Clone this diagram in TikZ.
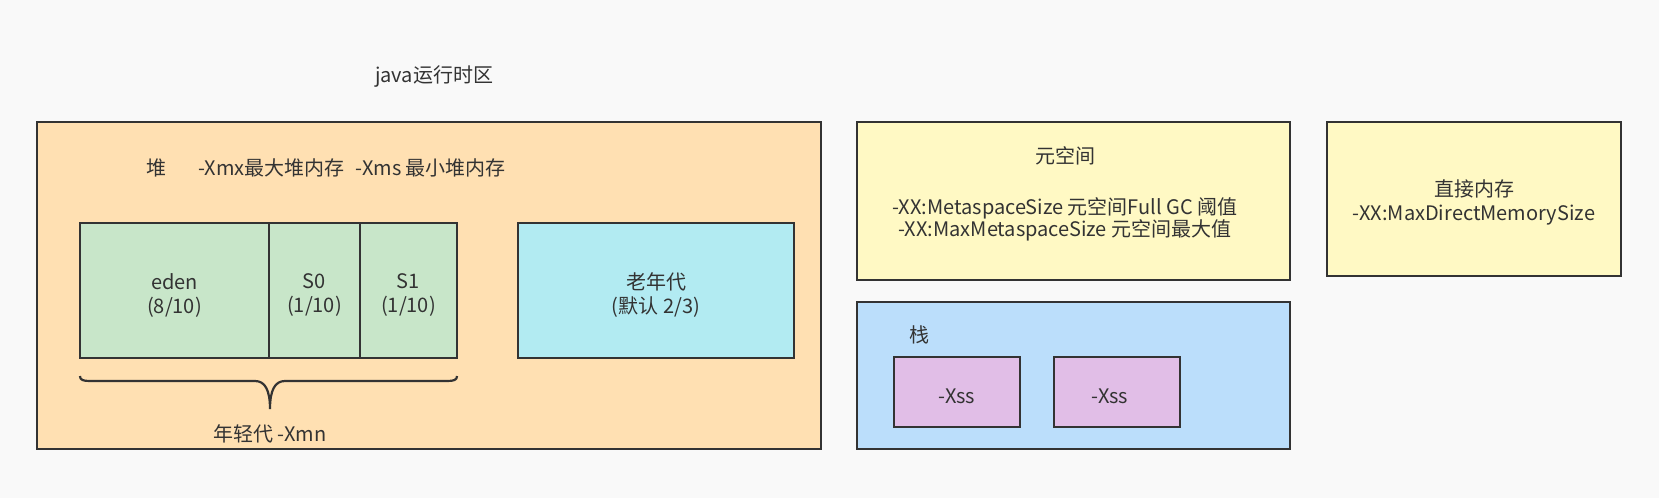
\documentclass[tikz,border=0pt]{standalone}
\usepackage{fontspec}
\newfontfamily\cjk{Noto Sans CJK SC}
\usetikzlibrary{positioning}

\definecolor{bgc}{HTML}{F9F9F9}
\definecolor{ink}{HTML}{333333}
\definecolor{heapc}{HTML}{FFE0B2}
\definecolor{youngc}{HTML}{C8E6C9}
\definecolor{oldc}{HTML}{B2EBF2}
\definecolor{metac}{HTML}{FFF9C4}
\definecolor{stackc}{HTML}{BBDEFB}
\definecolor{xssc}{HTML}{E1BEE7}

\begin{document}
\begin{tikzpicture}[x=1pt, y=-1pt, node distance=0pt,
		every node/.append style={font=\cjk\fontsize{20}{24}\selectfont, text=ink, align=center},
		box/.style={draw=ink, line width=2.6pt, outer sep=0pt, inner sep=0pt, anchor=north west},
		young/.style={box, fill=youngc, minimum height=135pt, anchor=center} ]
	\fill[bgc] (0,0) rectangle (1659,498);
	\node (title) at (434,77) {java运行时区};
	
	%Caixas:
	\node[box, fill=heapc,  minimum width=784pt, minimum height=327pt] (heap)   at (37,122)   {};
	\node[box, fill=metac,  minimum width=433pt, minimum height=158pt] (meta)   at (857,122)  {};
	\node[box, fill=metac,  minimum width=294pt, minimum height=154pt] (direct) at (1327,122) {};
	\node[box, fill=stackc, minimum width=433pt, minimum height=147pt] (stack)  at (857,302)  {};
	
	\node[young, minimum width=189pt, anchor=north west] (eden) at (80,223) {};
	\node[young, minimum width=91pt, right=of eden]      (szero) {};
	\node[young, minimum width=97pt, right=of szero]     (sone)  {};
	\node[box, fill=oldc, minimum width=276pt, minimum height=135pt] (old) at (518,223) {};
	\node[box, fill=xssc, minimum width=126pt, minimum height=70pt] (xssA) at (894,357)  {};
	\node[box, fill=xssc, minimum width=126pt, minimum height=70pt] (xssB) at (1054,357) {};
	
	%Textos:
	\node[anchor=west] (heaplbl) at (143,168) {堆\hspace{32pt}-Xmx最大堆内存\hspace{11pt}-Xms 最小堆内存};
	\node (edentxt)  at (174.5,295) {eden\\(8/10)};
	\node (szerotxt) at (314.5,295) {S0\\(1/10)};
	\node (sonetxt)  at (408.5,295) {S1\\(1/10)};
	\node (oldtxt)   at (656,295)   {老年代\\(默认 2/3)};
	\node[font=\cjk\fontsize{20}{22}\selectfont] (metatxt) at (1065,194)
		{元空间\\[29pt]-XX:MetaspaceSize 元空间Full GC 阈值\\-XX:MaxMetaspaceSize 元空间最大值};
	\node (directtxt) at (1474,202) {直接内存\\-XX:MaxDirectMemorySize};
	\node (stacklbl)  at (919,335)  {栈};
	\node (xssAtxt)   at (957,396)  {-Xss};
	\node (xssBtxt)   at (1110,396) {-Xss};
	
	%Chave do ano novo:
	\draw[ink, line width=2.2pt] (80,376) .. controls (80,380) and (83,381) .. (90,381) -- (255,381)
		.. controls (265,381) and (270,390) .. (270,409)
		.. controls (270,390) and (275,381) .. (285,381) -- (447,381)
		.. controls (454,381) and (457,380) .. (457,376);
	\node (younglbl) at (270,434) {年轻代 -Xmn};
\end{tikzpicture}
\end{document}
